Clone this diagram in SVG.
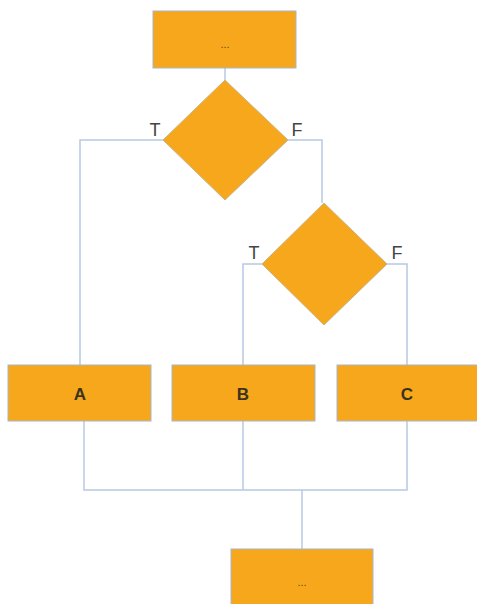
<svg xmlns="http://www.w3.org/2000/svg" width="477" height="604" viewBox="0 0 477 604">
<style>
.box{fill:#f6a71c;stroke:#a9b6c8;stroke-width:1}
.dia{fill:#f6a71c;stroke:#c9b58a;stroke-width:1}
.lbl{font-family:"Liberation Sans",Arial,sans-serif;font-size:17px;font-weight:bold;fill:#3a3320;text-anchor:middle}
.tf{font-family:"Liberation Sans",Arial,sans-serif;font-size:18px;fill:#444;text-anchor:middle}
.dots{font-family:"Liberation Sans",Arial,sans-serif;font-size:11px;fill:#5a4a2a;text-anchor:middle}
.con{fill:none;stroke:#b8c9e3;stroke-width:1.5}
</style>
<g id="connectors">
<path class="con" d="M225,68 V80"/>
<path class="con" d="M163,140 H80 V365"/>
<path class="con" d="M288,140 H322 V203"/>
<path class="con" d="M262,264 H243 V365"/>
<path class="con" d="M387,264 H407 V365"/>
<path class="con" d="M84,421 V490 H407 V421"/>
<path class="con" d="M243,421 V490"/>
<path class="con" d="M302,490 V549"/>
</g>
<g id="start">
<rect class="box" x="153" y="11" width="143" height="57"/>
<text class="dots" x="225" y="48">...</text>
</g>
<g id="decision1">
<polygon class="dia" points="225,80 288,140 225,200 163,140"/>
<text class="tf" x="155" y="136">T</text>
<text class="tf" x="297" y="136">F</text>
</g>
<g id="decision2">
<polygon class="dia" points="324,203 387,264 324,325 262,264"/>
<text class="tf" x="254" y="259">T</text>
<text class="tf" x="397" y="259">F</text>
</g>
<g id="nodeA">
<rect class="box" x="8" y="365" width="143" height="56"/>
<text class="lbl" x="80" y="400">A</text>
</g>
<g id="nodeB">
<rect class="box" x="172" y="365" width="143" height="56"/>
<text class="lbl" x="243" y="400">B</text>
</g>
<g id="nodeC">
<rect class="box" x="337" y="365" width="143" height="56"/>
<text class="lbl" x="407" y="400">C</text>
</g>
<g id="end">
<rect class="box" x="231" y="549" width="142" height="60"/>
<text class="dots" x="302" y="586">...</text>
</g>
</svg>
